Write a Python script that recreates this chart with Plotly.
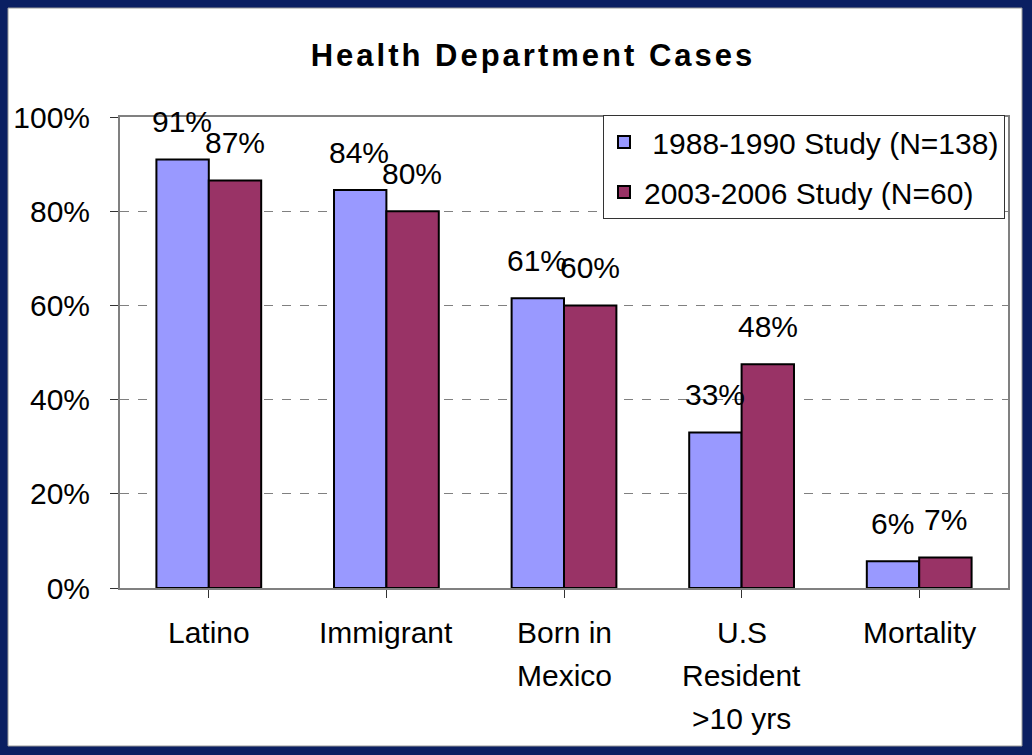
import plotly.graph_objects as go

categories = ["Latino", "Immigrant", "Born in<br>Mexico", "U.S<br>Resident<br>>10 yrs", "Mortality"]
series_names = [" 1988-1990 Study (N=138)", "2003-2006 Study (N=60)"]
values_1988 = [0.91, 0.845, 0.615, 0.33, 0.057]
values_2003 = [0.865, 0.80, 0.60, 0.475, 0.065]
labels_1988 = ["91%", "84%", "61%", "33%", "6%"]
labels_2003 = ["87%", "80%", "60%", "48%", "7%"]
ytick_vals = [0, 0.2, 0.4, 0.6, 0.8, 1.0]
ytick_text = ["0%", "20%", "40%", "60%", "80%", "100%"]
title_text = "Health Department Cases"

colors = ["#9999FF", "#993366"]
FONT = "Liberation Sans, Arial, sans-serif"
FS = 30

W, H = 1032, 755
L, R, T, B = 120, 24, 117, 167
pw, ph = W - L - R, H - T - B

fig = go.Figure()
for k, (name, vals, col) in enumerate(zip(series_names, [values_1988, values_2003], colors)):
    fig.add_trace(go.Bar(
        x=list(range(len(categories))), y=vals, name=name,
        legendgroup="g%d" % k,
        marker=dict(color=col, line=dict(color="black", width=2)),
        hoverinfo="skip",
    ))

annotations = []
for vals, labs, shift in [(values_1988, labels_1988, -27), (values_2003, labels_2003, 26)]:
    for i, (v, t) in enumerate(zip(vals, labs)):
        annotations.append(dict(
            x=i, y=v, xref="x", yref="y", text=t, showarrow=False,
            xshift=shift, yshift=38, yanchor="middle", xanchor="center",
            font=dict(family=FONT, size=FS, color="black"),
        ))

# category labels (custom line spacing)
for i, cat in enumerate(categories):
    for j, line in enumerate(cat.split("<br>")):
        ypix = 632 + 43 * j
        annotations.append(dict(
            x=i, y=0, xref="x", yref="paper", text=line, showarrow=False,
            yshift=-(ypix - (H - B)), yanchor="middle", xanchor="center",
            font=dict(family=FONT, size=FS, color="black"),
        ))

def px_x(p):
    return (p - L) / pw

def px_y(p):
    return (H - B - p) / ph

shapes = [dict(
    type="rect", xref="paper", yref="paper", layer="below",
    x0=px_x(8), x1=px_x(1022), y0=px_y(746), y1=px_y(8),
    fillcolor="white", line=dict(color="#9a9a9a", width=1),
)]

fig.update_layout(
    width=W, height=H,
    margin=dict(l=L, r=R, t=T, b=B),
    paper_bgcolor="#0B1F62",
    plot_bgcolor="rgba(0,0,0,0)",
    barmode="group", bargap=0.41, bargroupgap=0,
    showlegend=True,
    legend=dict(
        x=px_x(1005), y=px_y(115), xanchor="right", yanchor="top",
        bgcolor="white", bordercolor="#333333", borderwidth=1,
        font=dict(family=FONT, size=FS, color="black"),
        traceorder="grouped", tracegroupgap=8,
    ),
    title=dict(
        text='<span style="letter-spacing:3px"><b>%s</b></span>' % title_text,
        x=533 / W, xanchor="center", y=1 - 55 / H, yanchor="middle",
        font=dict(family=FONT, size=31, color="black"),
    ),
    annotations=annotations,
    shapes=shapes,
    font=dict(family=FONT, size=FS, color="black"),
)

fig.update_xaxes(
    range=[-0.5, len(categories) - 0.5],
    tickvals=list(range(len(categories))), ticktext=[""] * len(categories),
    tickson="boundaries", ticks="outside", ticklen=8, tickcolor="#333333",
    showline=True, linecolor="#808080", linewidth=2, mirror=True,
    showgrid=False, zeroline=False, fixedrange=True,
)
fig.update_yaxes(
    range=[0, 1], tickvals=ytick_vals, ticktext=ytick_text,
    ticks="outside", ticklen=8, tickcolor="#333333", ticklabelstandoff=14,
    showline=True, linecolor="#808080", linewidth=2, mirror=True,
    showgrid=True, gridcolor="#808080", griddash="dash", gridwidth=1,
    zeroline=False, fixedrange=True,
    tickfont=dict(family=FONT, size=FS, color="black"),
)

fig.write_html(
    "out.html",
    config={"displayModeBar": False},
    post_script="document.body.style.margin='0';document.body.style.background='#0B1F62';",
)
